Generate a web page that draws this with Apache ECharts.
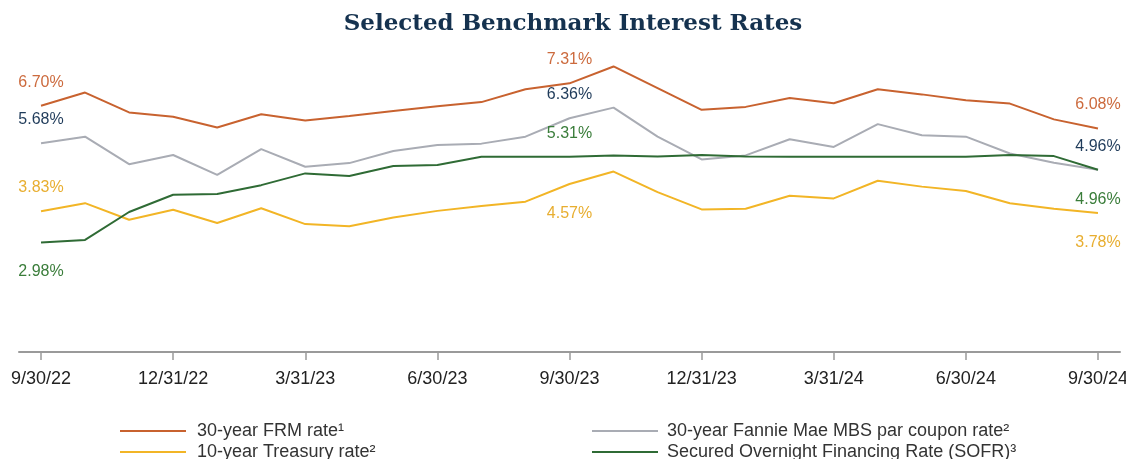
<!DOCTYPE html>
<html>
<head>
<meta charset="utf-8">
<script src="https://cdn.jsdelivr.net/npm/echarts@6/dist/echarts.min.js"></script>
<style>
html,body{margin:0;padding:0;background:#fff;}
#chart{width:1126px;height:459px;}
</style>
</head>
<body>
<div id="chart"></div>
<script>
const categories = ['9/30/22','10/31/22','11/30/22','12/31/22','1/31/23','2/28/23','3/31/23','4/30/23','5/31/23','6/30/23','7/31/23','8/31/23','9/30/23','10/31/23','11/30/23','12/31/23','1/31/24','2/29/24','3/31/24','4/30/24','5/31/24','6/30/24','7/31/24','8/31/24','9/30/24'];
const frm      = [6.70,7.06,6.52,6.40,6.11,6.47,6.30,6.42,6.56,6.69,6.80,7.15,7.31,7.77,7.18,6.59,6.67,6.91,6.77,7.15,7.01,6.85,6.76,6.33,6.08];
const mbs      = [5.68,5.86,5.11,5.36,4.82,5.52,5.04,5.14,5.47,5.63,5.67,5.86,6.36,6.65,5.86,5.24,5.35,5.79,5.58,6.20,5.90,5.86,5.40,5.15,4.96];
const treasury = [3.83,4.05,3.60,3.87,3.51,3.91,3.48,3.42,3.66,3.84,3.97,4.09,4.57,4.91,4.35,3.88,3.90,4.25,4.18,4.66,4.50,4.38,4.05,3.90,3.78];
const sofr     = [2.98,3.05,3.81,4.28,4.30,4.54,4.86,4.79,5.06,5.09,5.31,5.31,5.31,5.35,5.32,5.36,5.32,5.31,5.31,5.31,5.31,5.31,5.36,5.33,4.96];
const labelIdx = [0, 12, 24];
const names = ['30-year FRM rate¹','30-year Fannie Mae MBS par coupon rate²','10-year Treasury rate²','Secured Overnight Financing Rate (SOFR)³'];

const C = {
  frm:'#c8622f', frmLbl:'#cc6a3d',
  mbs:'#a9acb4', mbsLbl:'#1f3b5a',
  tsy:'#f2b526', tsyLbl:'#e8ae30',
  sofr:'#2f6b35', sofrLbl:'#3a7d3a'
};

function mkSeries(name, data, lineColor, lblColor, positions){
  return {
    name, type:'line',
    data: data.map((v,i)=>{
      const o = {value:v};
      const k = labelIdx.indexOf(i);
      if (k >= 0) {
        const pos = positions[k];
        o.label = {show:true, position:pos, distance: pos === 'top' ? 15 : 21, color:lblColor,
          fontSize:16, fontFamily:'Liberation Sans, Arial, sans-serif',
          formatter:(p)=>p.value.toFixed(2)+'%'};
      }
      return o;
    }),
    showSymbol:true, symbol:'circle', symbolSize:1, showAllSymbol:true,
    lineStyle:{color:lineColor, width:2},
    itemStyle:{color:'rgba(0,0,0,0)', borderWidth:0},
    label:{show:false},
    labelLayout:{hideOverlap:false},
    emphasis:{disabled:true},
    z: name.startsWith('Secured') ? 3 : 2
  };
}

function mkLegend(name, color, left, top, w, gap){
  return {left, top, padding:0, orient:'horizontal', itemWidth:w, itemHeight:2, icon:'rect',
    textStyle:{fontSize:18, color:'#333', fontFamily:'Liberation Sans, Arial, sans-serif', padding:[0,0,0,gap]},
    selectedMode:false,
    data:[{name, itemStyle:{color, opacity:1}}]};
}

const chart = echarts.init(document.getElementById('chart'), null, {renderer:'canvas'});
chart.setOption({
  animation:false,
  backgroundColor:'#fff',
  title:{text:'Selected Benchmark Interest Rates', left:568, textAlign:'center', top:8,
    textStyle:{fontFamily:'DejaVu Serif, Georgia, serif', fontWeight:'bold', fontSize:23, color:'#15324f'}},
  legend:[
    mkLegend(names[0], C.frm, 120, 422, 66, 6),
    mkLegend(names[2], C.tsy, 120, 443, 66, 6),
    mkLegend(names[1], C.mbs, 592, 422, 66, 4),
    mkLegend(names[3], C.sofr, 592, 443, 66, 4)
  ],
  grid:{left:19, right:6, top:58, bottom:107, containLabel:false, outerBoundsMode:'none'},
  xAxis:{type:'category', data:categories, boundaryGap:true,
    axisLine:{lineStyle:{color:'#9a9a9a', width:2}},
    axisTick:{show:true, alignWithLabel:true, interval:2, length:8, lineStyle:{color:'#9a9a9a', width:1.5}},
    axisLabel:{interval:2, margin:18, fontSize:18, color:'#222', fontFamily:'Liberation Sans, Arial, sans-serif'},
    splitLine:{show:false}},
  yAxis:{type:'value', min:0, max:8, show:false, splitLine:{show:false}},
  series:[
    mkSeries(names[0], frm, C.frm, C.frmLbl, ['top','top','top']),
    mkSeries(names[1], mbs, C.mbs, C.mbsLbl, ['top','top','top']),
    mkSeries(names[2], treasury, C.tsy, C.tsyLbl, ['top','bottom','bottom']),
    mkSeries(names[3], sofr, C.sofr, C.sofrLbl, ['bottom','top','bottom'])
  ]
});
</script>
</body>
</html>
